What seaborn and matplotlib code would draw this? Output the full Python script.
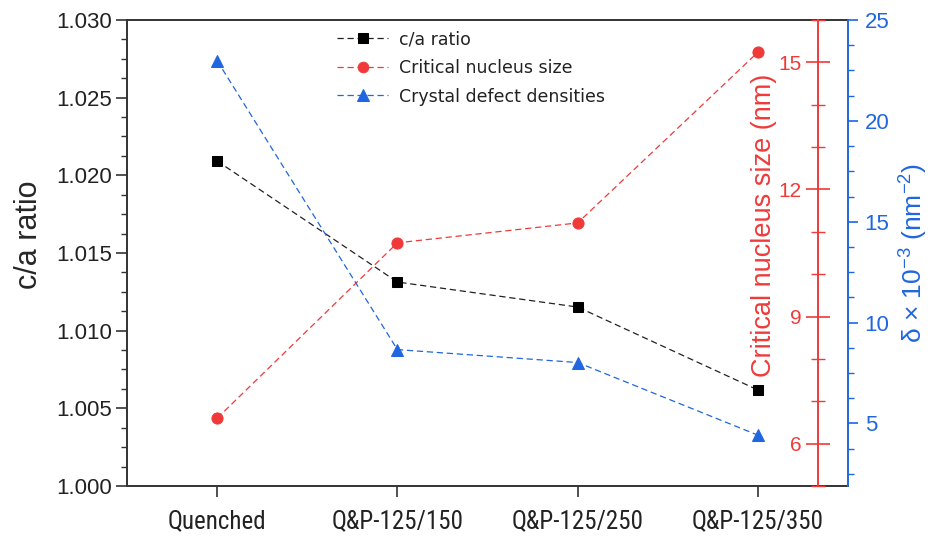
import matplotlib
matplotlib.use("Agg")
import matplotlib.pyplot as plt
from matplotlib.ticker import MultipleLocator, AutoMinorLocator, FormatStrFormatter
import seaborn as sns
import pandas as pd

samples = ["Quenched", "Q&P-125/150", "Q&P-125/250", "Q&P-125/350"]
ca_ratio = [1.02092, 1.01313, 1.01152, 1.00618]
nucleus_size = [6.60, 10.74, 11.21, 15.24]
defect_density = [22.98, 8.66, 8.02, 4.42]

sns.set_theme(style="white")
plt.rcParams["font.family"] = ["Liberation Sans", "DejaVu Sans"]
plt.rcParams["mathtext.fontset"] = "custom"
plt.rcParams["mathtext.rm"] = "Liberation Sans"
plt.rcParams["mathtext.it"] = "Liberation Sans:italic"
plt.rcParams["lines.dashed_pattern"] = (5.0, 3.0)

df = pd.DataFrame({"sample": samples, "ca": ca_ratio,
                   "size": nucleus_size, "delta": defect_density})

fig = plt.figure(figsize=(9.34, 5.36), dpi=100)
ax = fig.add_axes([0.136, 0.0933, 0.772, 0.8694])
ax_r = ax.twinx()
ax_b = ax.twinx()

BLACK, RED, BLUE = "#000000", "#f03a3a", "#1f66e0"
AXIS = "#333333"

sns.lineplot(data=df, x="sample", y="ca", ax=ax, color="#222222", linestyle="--",
             linewidth=0.9, marker="s", markersize=7, markerfacecolor=BLACK,
             markeredgecolor=BLACK, sort=False, label="c/a ratio", legend=False)
sns.lineplot(data=df, x="sample", y="size", ax=ax_r, color=RED, linestyle="--",
             linewidth=0.9, marker="o", markersize=8, markerfacecolor=RED,
             markeredgecolor=RED, sort=False, label="Critical nucleus size", legend=False)
sns.lineplot(data=df, x="sample", y="delta", ax=ax_b, color=BLUE, linestyle="--",
             linewidth=0.9, marker="^", markersize=9, markerfacecolor=BLUE,
             markeredgecolor=BLUE, sort=False, label="Crystal defect densities", legend=False)

# primary axis: c/a ratio
ax.set_xlim(-0.5, 3.5)
ax.set_ylim(1.000, 1.030)
ax.yaxis.set_major_locator(MultipleLocator(0.005))
ax.yaxis.set_minor_locator(AutoMinorLocator(4))
ax.yaxis.set_major_formatter(FormatStrFormatter("%.3f"))
ax.set_ylabel("c/a ratio", fontsize=22)
ax.yaxis.set_label_coords(-0.115, 0.54)
ax.set_xlabel("")
ax.tick_params(axis="y", which="major", direction="out", length=8, width=1.2,
               labelsize=16, left=True, color=AXIS, labelcolor="#222222", pad=3)
ax.tick_params(axis="y", which="minor", direction="out", length=4, width=1.0,
               left=True, color=AXIS)
ax.tick_params(axis="x", which="major", direction="out", length=8, width=1.2,
               pad=9, bottom=True, color=AXIS, labelcolor="#222222")
for lab in ax.get_xticklabels():
    lab.set_fontfamily(["Roboto Condensed", "Liberation Sans", "DejaVu Sans"])
    lab.set_fontsize(18)
for s in ["left", "bottom", "top", "right"]:
    ax.spines[s].set_color(AXIS)
    ax.spines[s].set_linewidth(1.4)
ax.spines["right"].set_visible(False)

# red axis: critical nucleus size, drawn inside the plot frame
ax_r.set_ylim(5, 16)
ax_r.yaxis.set_major_locator(MultipleLocator(3))
ax_r.yaxis.set_minor_locator(MultipleLocator(1))
for s in ["top", "bottom", "right"]:
    ax_r.spines[s].set_visible(False)
ax_r.spines["left"].set_visible(True)
ax_r.spines["left"].set_position(("axes", 0.958))
ax_r.spines["left"].set_color(RED)
ax_r.spines["left"].set_linewidth(1.4)
ax_r.yaxis.tick_left()
ax_r.yaxis.set_label_position("left")
ax_r.tick_params(axis="y", which="major", direction="inout", length=17, width=1.2,
                 labelsize=15, colors=RED, pad=3)
ax_r.tick_params(axis="y", which="minor", direction="inout", length=10, width=1.0,
                 color=RED)
ax_r.set_ylabel("Critical nucleus size (nm)", fontsize=19.5, color=RED)
ax_r.yaxis.set_label_coords(0.902, 0.56)

# blue axis: crystal defect densities
ax_b.set_ylim(1.9, 25)
ax_b.yaxis.set_major_locator(MultipleLocator(5))
ax_b.yaxis.set_minor_locator(AutoMinorLocator(4))
for s in ["top", "bottom", "left"]:
    ax_b.spines[s].set_visible(False)
ax_b.spines["right"].set_color(BLUE)
ax_b.spines["right"].set_linewidth(1.4)
ax_b.tick_params(axis="y", which="major", direction="out", length=7, width=1.2,
                 labelsize=16, colors=BLUE, right=True, pad=5)
ax_b.tick_params(axis="y", which="minor", direction="out", length=4, width=1.0,
                 color=BLUE, right=True)
ax_b.set_ylabel(r"δ × 10$^{-3}$ (nm$^{-2}$)", fontsize=19, color=BLUE, labelpad=6)

handles = []
labels = []
for a in (ax, ax_r, ax_b):
    h, l = a.get_legend_handles_labels()
    handles += h
    labels += l
leg = ax_b.legend(handles, labels, loc="upper left", bbox_to_anchor=(0.27, 1.012),
                  frameon=False, fontsize=12.5, handlelength=2.9, handletextpad=0.65,
                  labelspacing=0.62, numpoints=1, markerscale=0.95)
for t in leg.get_texts():
    t.set_fontfamily(["DejaVu Sans"])
    t.set_color("#222222")

fig.savefig("out.png", dpi=100)
